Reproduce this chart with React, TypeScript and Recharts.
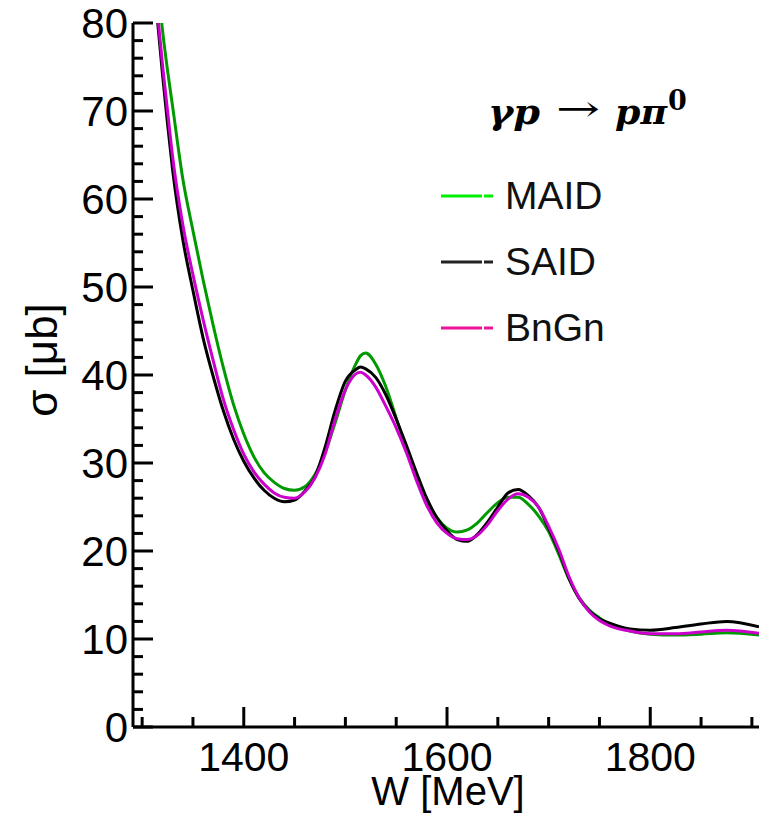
import React from "react";
import { LineChart, Line, XAxis, YAxis } from "recharts";

// W in MeV, cross sections in microbarn
const energies = [
  1310, 1315, 1320, 1325, 1330, 1340, 1350, 1360, 1370, 1380, 1390, 1400, 1410, 1420,
  1430, 1440, 1450, 1460, 1470, 1480, 1490, 1500, 1510, 1515, 1520, 1530, 1540, 1550, 1560,
  1570, 1580, 1590, 1600, 1610, 1620, 1630, 1640, 1650, 1660, 1670, 1680, 1690, 1700,
  1710, 1720, 1730, 1740, 1750, 1760, 1780, 1800, 1825, 1850, 1875, 1907
];

const maid = [
  90, 85, 79.2, 74.6, 70.5, 62.3, 56.4, 50.8, 45.6, 40.8, 36.6, 33.3, 30.7, 28.9,
  27.8, 27.1, 26.9, 27.3, 28.7, 31.2, 34.6, 38.3, 41.2, 42.2, 42.5, 41.2, 38.6, 35.1, 31.5,
  28.3, 25.7, 23.8, 22.6, 22.15, 22.4, 23.2, 24.4, 25.5, 26.1, 26.1, 25.3, 24.0, 22.2,
  19.6, 16.8, 14.7, 13.3, 12.4, 11.7, 10.9, 10.55, 10.45, 10.55, 10.7, 10.45
];

const said = [
  87, 80.4, 74.2, 68.5, 63.3, 55.4, 49.6, 44.2, 39.8, 35.9, 32.7, 30.2, 28.3, 26.9,
  26.0, 25.6, 25.8, 26.8, 28.4, 31.8, 36.0, 39.3, 40.6, 40.9, 40.7, 39.7, 37.7, 35.0, 32.0,
  28.9, 26.0, 23.8, 22.3, 21.3, 21.1, 21.9, 23.3, 25.0, 26.6, 27.0, 26.3, 25.0, 22.6,
  20.0, 16.9, 14.6, 13.2, 12.3, 11.8, 11.15, 11.0, 11.3, 11.7, 12.0, 11.4
];

const bngn = [
  86, 81.2, 75.3, 70, 64.8, 57.1, 51.4, 46.3, 41.6, 37.2, 33.8, 31.0, 29.0, 27.6,
  26.6, 26.1, 26.0, 26.7, 28.3, 31.0, 35.0, 38.3, 40.1, 40.3, 40.0, 38.6, 36.4, 34.0, 31.2,
  28.0, 25.2, 23.2, 22.0, 21.4, 21.3, 21.8, 23.0, 24.6, 25.9, 26.5, 26.1, 25.0, 22.8,
  20.2, 17.1, 14.7, 13.1, 12.1, 11.5, 10.9, 10.6, 10.6, 10.8, 11.0, 10.65
];

const xTicks = [1300, 1350, 1400, 1450, 1500, 1550, 1600, 1650, 1700, 1750, 1800, 1850, 1900];
const yTicks = Array.from({ length: 41 }, (_, i) => i * 2);

const rows = energies.map((w, i) => ({ w, maid: maid[i], said: said[i], bngn: bngn[i] }));

const FONT = "'Liberation Sans', Arial, Helvetica, sans-serif";

function XTick(props: any) {
  const { x, y, payload } = props;
  const major = payload.value % 200 === 0;
  return (
    <g>
      <line x1={x} x2={x} y1={y} y2={y - (major ? 20 : 10)} stroke="#000" strokeWidth={3} />
      {major && (
        <text x={x} y={y + 44} textAnchor="middle" fontSize={41} fontFamily={FONT} fill="#000">
          {payload.value}
        </text>
      )}
    </g>
  );
}

function YTick(props: any) {
  const { x, y, payload } = props;
  const major = payload.value % 10 === 0;
  return (
    <g>
      <line x1={x} x2={x + (major ? 20 : 10)} y1={y} y2={y} stroke="#000" strokeWidth={3} />
      {major && (
        <text x={x - 5} y={y + 15} textAnchor="end" fontSize={42} fontFamily={FONT} fill="#000">
          {payload.value}
        </text>
      )}
    </g>
  );
}

const legend = [
  { name: "MAID", color: "#00ee00", y: 196 },
  { name: "SAID", color: "#222222", y: 262 },
  { name: "BnGn", color: "#ee1199", y: 328 }
];

export default function App() {
  return (
    <div style={{ position: "absolute", left: 0, top: 0, width: 761, height: 815 }}>
      <LineChart width={761} height={815} data={rows} margin={{ top: 23, right: 2, left: 0, bottom: 0 }}>
        <XAxis
          dataKey="w"
          type="number"
          domain={[1291, 1907]}
          allowDataOverflow
          ticks={xTicks}
          interval={0}
          height={88}
          tickSize={0}
          tickMargin={0}
          tickLine={false}
          axisLine={{ stroke: "#000", strokeWidth: 3 }}
          tick={<XTick />}
        />
        <XAxis
          xAxisId="top"
          orientation="top"
          type="number"
          domain={[1291, 1907]}
          height={0}
          tick={false}
          tickLine={false}
          axisLine={{ stroke: "#000", strokeWidth: 3 }}
        />
        <YAxis
          type="number"
          domain={[0, 80]}
          allowDataOverflow
          ticks={yTicks}
          interval={0}
          width={133}
          tickSize={0}
          tickMargin={0}
          tickLine={false}
          axisLine={{ stroke: "#000", strokeWidth: 3 }}
          tick={<YTick />}
        />
        <YAxis
          yAxisId="right"
          orientation="right"
          type="number"
          domain={[0, 80]}
          width={0}
          tick={false}
          tickLine={false}
          axisLine={{ stroke: "#000", strokeWidth: 3 }}
        />
        <Line type="monotone" dataKey="maid" stroke="#009a00" strokeWidth={3} dot={false} isAnimationActive={false} />
        <Line type="monotone" dataKey="said" stroke="#000000" strokeWidth={3} dot={false} isAnimationActive={false} />
        <Line type="monotone" dataKey="bngn" stroke="#cc00cc" strokeWidth={3} dot={false} isAnimationActive={false} />
      </LineChart>
      <svg
        width={761}
        height={815}
        style={{ position: "absolute", left: 0, top: 0, pointerEvents: "none" }}
      >
        <text x={448} y={805} textAnchor="middle" fontSize={40} fontFamily={FONT}>
          W [MeV]
        </text>
        <text
          transform="translate(57 360) rotate(-90)"
          textAnchor="middle"
          fontSize={44}
          fontFamily={FONT}
        >
          σ [μb]
        </text>
        <g fontFamily="'DejaVu Serif', 'Liberation Serif', serif" fontWeight="bold" fontStyle="italic" fontSize={36}>
          <text x={488} y={124} textLength={52} lengthAdjust="spacingAndGlyphs">γp</text>
          <text x={556} y={121} fontStyle="normal" fontWeight="normal" textLength={44} lengthAdjust="spacingAndGlyphs">→</text>
          <text x={615} y={124} textLength={52} lengthAdjust="spacingAndGlyphs">pπ</text>
          <text x={668} y={110} fontStyle="normal" fontSize={27}>0</text>
        </g>
        {legend.map((l) => (
          <g key={l.name}>
            <line x1={441} x2={482} y1={l.y} y2={l.y} stroke={l.color} strokeWidth={3} />
            <line x1={484} x2={493} y1={l.y} y2={l.y} stroke={l.color} strokeWidth={3} />
            <text x={505} y={l.y + 13} fontSize={39} fontFamily={FONT} fill="#111">
              {l.name}
            </text>
          </g>
        ))}
      </svg>
    </div>
  );
}
